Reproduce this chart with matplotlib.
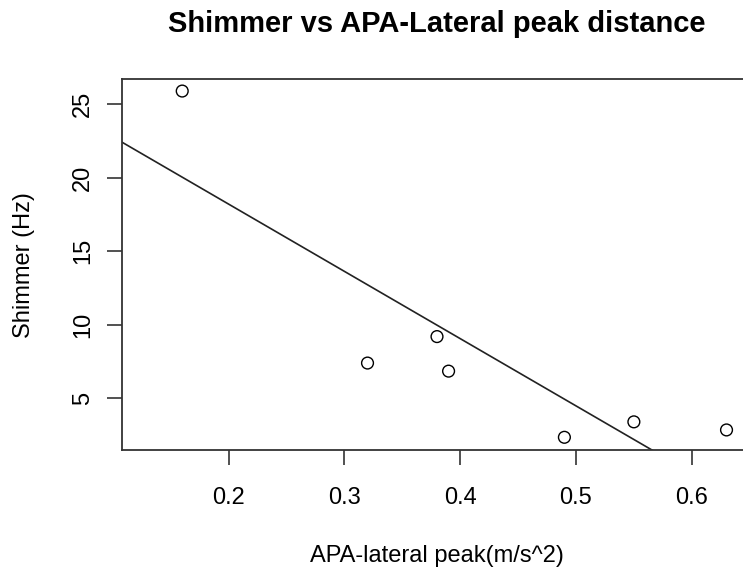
import matplotlib
matplotlib.use("Agg")
import matplotlib.pyplot as plt
import numpy as np

# values
apa_lateral_peak = [0.16, 0.32, 0.38, 0.39, 0.49, 0.55, 0.63]
shimmer_hz = [25.9, 7.4, 9.2, 6.85, 2.35, 3.4, 2.85]
x_ticks = [0.2, 0.3, 0.4, 0.5, 0.6]
y_ticks = [5, 10, 15, 20, 25]

plt.rcParams["font.family"] = ["Liberation Sans", "DejaVu Sans"]

W, H = 743, 567
fig = plt.figure(figsize=(W / 100, H / 100), dpi=100, facecolor="white")
ax = fig.add_axes([122 / W, 1 - 449.5 / H, (752 - 122) / W, (449.5 - 79) / H])

ax.scatter(apa_lateral_peak, shimmer_hz, s=72, facecolors="none", edgecolors="black",
           linewidths=1.0, zorder=3)

# least-squares fit line, like abline(lm(y ~ x)) in R
slope, intercept = np.polyfit(apa_lateral_peak, shimmer_hz, 1)
xlim = (0.108, 0.652)
ylim = (1.52, 26.72)
xs = np.array(xlim)
ax.plot(xs, intercept + slope * xs, color="#222222", linewidth=1.2, zorder=2)

ax.set_xlim(*xlim)
ax.set_ylim(*ylim)
ax.set_xticks(x_ticks)
ax.set_xticklabels([f"{t:.1f}" for t in x_ticks])
ax.set_yticks(y_ticks)
ax.set_yticklabels([str(t) for t in y_ticks], rotation=90, va="center")
ax.tick_params(axis="both", direction="out", length=11, width=1.2, labelsize=17,
               color="#333333")
ax.tick_params(axis="x", pad=16)
ax.tick_params(axis="y", pad=9)

for spine in ax.spines.values():
    spine.set_linewidth(1.3)
    spine.set_color("#333333")

fig.text(437 / W, 1 - 562 / H, "APA-lateral peak(m/s^2)", ha="center", va="baseline",
         fontsize=17)
fig.text(35 / W, 1 - 265 / H, "Shimmer (Hz)", ha="right", va="center", rotation=90,
         fontsize=17)
fig.text(437 / W, 1 - 32 / H, "Shimmer vs APA-Lateral peak distance", ha="center",
         va="baseline", fontsize=21, fontweight="bold")

fig.savefig("out.png", dpi=100, facecolor="white")
